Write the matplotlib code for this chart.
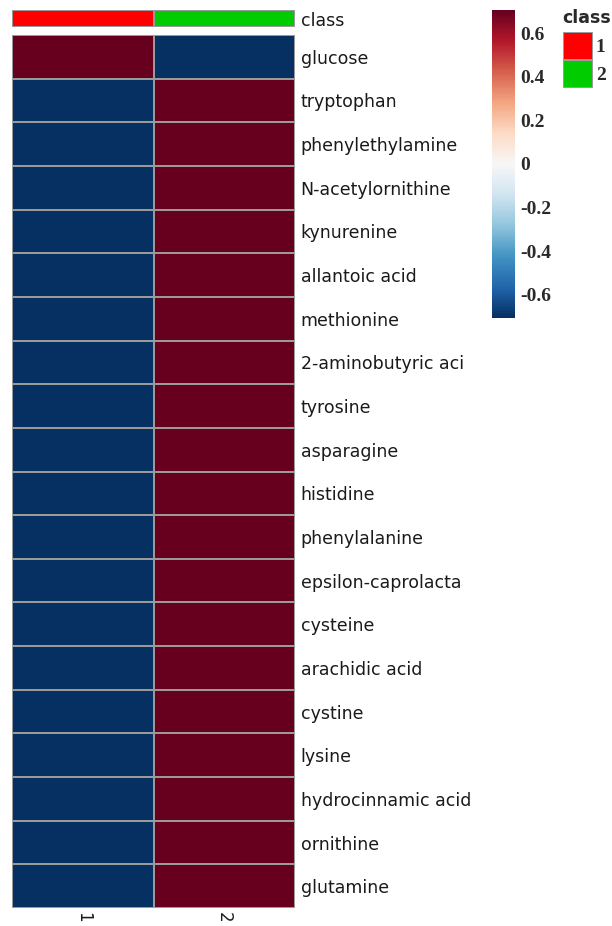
import numpy as np
import matplotlib.pyplot as plt
from matplotlib.colors import ListedColormap

# metabolites, top to bottom
metabolites = ["glucose", "tryptophan", "phenylethylamine", "N-acetylornithine",
               "kynurenine", "allantoic acid", "methionine", "2-aminobutyric aci",
               "tyrosine", "asparagine", "histidine", "phenylalanine",
               "epsilon-caprolacta", "cysteine", "arachidic acid", "cystine",
               "lysine", "hydrocinnamic acid", "ornithine", "glutamine"]
samples = ["1", "2"]
sample_class = [1, 2]

# scaled values per sample
col1 = [0.7071, -0.7071, -0.7071, -0.7071, -0.7071, -0.7071, -0.7071, -0.7071,
        -0.7071, -0.7071, -0.7071, -0.7071, -0.7071, -0.7071, -0.7071, -0.7071,
        -0.7071, -0.7071, -0.7071, -0.7071]
col2 = [-0.7071, 0.7071, 0.7071, 0.7071, 0.7071, 0.7071, 0.7071, 0.7071,
        0.7071, 0.7071, 0.7071, 0.7071, 0.7071, 0.7071, 0.7071, 0.7071,
        0.7071, 0.7071, 0.7071, 0.7071]

class_colors = {1: "#FF0000", 2: "#00CC00"}
cb_ticks = [-0.6, -0.4, -0.2, 0, 0.2, 0.4, 0.6]

data = np.column_stack([col1, col2])
vmax = np.abs(data).max()

W, H = 612, 926
fig = plt.figure(figsize=(W / 100, H / 100), dpi=100)


def fax(x0, y0, x1, y1):
    # axes from pixel box (left, top, right, bottom)
    return fig.add_axes([x0 / W, 1 - y1 / H, (x1 - x0) / W, (y1 - y0) / H])


border = "#9a9a9a"

# main heatmap
ax = fax(12, 35, 295, 908)
mesh = ax.pcolormesh(data, cmap="RdBu_r", vmin=-vmax, vmax=vmax,
                     edgecolors=border, linewidth=1.2)
ax.set_xlim(0, len(samples))
ax.set_ylim(len(metabolites), 0)
for s in ax.spines.values():
    s.set_visible(False)
ax.set_xticks(np.arange(len(samples)) + 0.5)
ax.set_xticklabels(samples, rotation=270, fontsize=12, color="#1a1a1a")
ax.set_yticks(np.arange(len(metabolites)) + 0.5)
ax.set_yticklabels(metabolites, fontsize=12.5, color="#1a1a1a")
ax.yaxis.tick_right()
ax.tick_params(length=0, pad=4)
ax.tick_params(axis="x", pad=3)

# class annotation bar
cax_cls = fax(12, 10, 295, 27)
cls_cmap = ListedColormap([class_colors[c] for c in sorted(class_colors)])
cax_cls.pcolormesh(np.array([sample_class]), cmap=cls_cmap, vmin=0.5, vmax=2.5,
                   edgecolors=border, linewidth=1.2)
cax_cls.set_xlim(0, len(samples))
cax_cls.set_xticks([])
cax_cls.set_yticks([0.5])
cax_cls.set_yticklabels(["class"], fontsize=12.5, color="#1a1a1a")
cax_cls.yaxis.tick_right()
cax_cls.tick_params(length=0, pad=4)
for s in cax_cls.spines.values():
    s.set_visible(False)

# colour key
cbax = fax(492, 10, 515, 318)
cb = fig.colorbar(mesh, cax=cbax, ticks=cb_ticks)
cb.outline.set_visible(False)
cb.ax.set_yticklabels(["0" if t == 0 else f"{t:g}" for t in cb_ticks],
                      family="Liberation Serif", fontsize=14, fontweight="bold",
                      color="#2a2a2a")
cb.ax.tick_params(length=0, pad=4)

# class legend
lax = fax(563, 32, 593, 88)
lax.pcolormesh(np.array([[1], [2]]), cmap=cls_cmap, vmin=0.5, vmax=2.5,
               edgecolors=border, linewidth=1.2)
lax.set_ylim(2, 0)
lax.set_xticks([])
lax.set_yticks([0.5, 1.5])
lax.set_yticklabels([str(c) for c in sorted(class_colors)],
                    family="Liberation Serif", fontsize=14, fontweight="bold",
                    color="#2a2a2a")
lax.yaxis.tick_right()
lax.tick_params(length=0, pad=2)
for s in lax.spines.values():
    s.set_visible(False)
fig.text(562 / W, 1 - 18 / H, "class", fontsize=12.5, fontweight="bold",
         va="center", ha="left", color="#2a2a2a")

fig.savefig("out.png", dpi=100)
